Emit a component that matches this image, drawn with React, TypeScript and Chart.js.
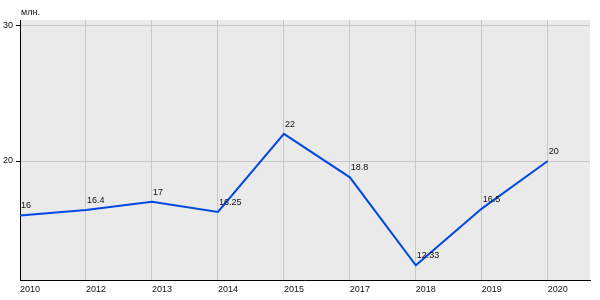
import React, { useEffect, useRef } from "react";
import { Chart, registerables } from "chart.js";

Chart.register(...registerables);

const years = ["2010", "2012", "2013", "2014", "2015", "2017", "2018", "2019", "2020"];
const values = [16, 16.4, 17, 16.25, 22, 18.8, 12.33, 16.5, 20];
const valueLabels = ["16", "16.4", "17", "16.25", "22", "18.8", "12.33", "16.5", "20"];
const yTicks = [20, 30];
const unitLabel = "млн.";

const FONT = "Arial, 'Liberation Sans', sans-serif";

export default function App() {
  const ref = useRef<HTMLCanvasElement | null>(null);

  useEffect(() => {
    document.body.style.margin = "0";
    const canvas = ref.current;
    if (!canvas) return;

    const bgPlugin = {
      id: "plotBg",
      beforeDraw(chart: any) {
        const { ctx, chartArea } = chart;
        ctx.save();
        ctx.fillStyle = "#eaeaea";
        ctx.fillRect(chartArea.left, chartArea.top, chartArea.right - chartArea.left, chartArea.bottom - chartArea.top);
        ctx.restore();
      },
    };

    const labelPlugin = {
      id: "valueLabels",
      afterDatasetsDraw(chart: any) {
        const { ctx } = chart;
        const meta = chart.getDatasetMeta(0);
        ctx.save();
        ctx.font = `9px ${FONT}`;
        ctx.fillStyle = "#111";
        ctx.textAlign = "left";
        ctx.textBaseline = "alphabetic";
        meta.data.forEach((pt: any, i: number) => {
          ctx.fillText(valueLabels[i], pt.x + 1, pt.y - 7);
        });
        ctx.fillText(unitLabel, chart.chartArea.left + 1, 15);
        ctx.restore();
      },
    };

    const chart = new Chart(canvas, {
      type: "line",
      data: {
        datasets: [
          {
            data: values.map((v, i) => ({ x: i, y: v })),
            borderColor: "#0048e4",
            borderWidth: 2,
            pointRadius: 0,
            tension: 0,
            fill: false,
          },
        ],
      },
      options: {
        animation: false,
        responsive: false,
        layout: { padding: { top: 20, right: 10, left: 0, bottom: 0 } },
        plugins: { legend: { display: false }, tooltip: { enabled: false }, title: { display: false } },
        scales: {
          x: {
            type: "linear",
            min: 0,
            max: 8.64,
            afterBuildTicks: (scale: any) => {
              scale.ticks = years.map((_, i) => ({ value: i }));
            },
            afterFit: (scale: any) => {
              scale.height = 20;
            },
            ticks: {
              align: "start",
              padding: 4,
              color: "#111",
              font: { family: FONT, size: 9 },
              callback: (v: any) => years[Math.round(Number(v))] ?? "",
              maxRotation: 0,
              autoSkip: false,
            },
            grid: { color: "#c8c8c8", drawTicks: false, lineWidth: 1 },
            border: { color: "#000", width: 1 },
          },
          y: {
            min: 11.25,
            max: 30.37,
            afterBuildTicks: (scale: any) => {
              scale.ticks = yTicks.map((v) => ({ value: v }));
            },
            afterFit: (scale: any) => {
              scale.width = 20;
            },
            ticks: {
              padding: 3,
              color: "#111",
              font: { family: FONT, size: 9 },
              callback: (v: any) => String(v),
            },
            grid: { color: "#c8c8c8", drawTicks: true, tickLength: 4, tickColor: "#000", lineWidth: 1 },
            border: { color: "#000", width: 1 },
          },
        },
      },
      plugins: [bgPlugin, labelPlugin],
    });

    return () => chart.destroy();
  }, []);

  return <canvas ref={ref} width={600} height={300} style={{ display: "block" }} />;
}
